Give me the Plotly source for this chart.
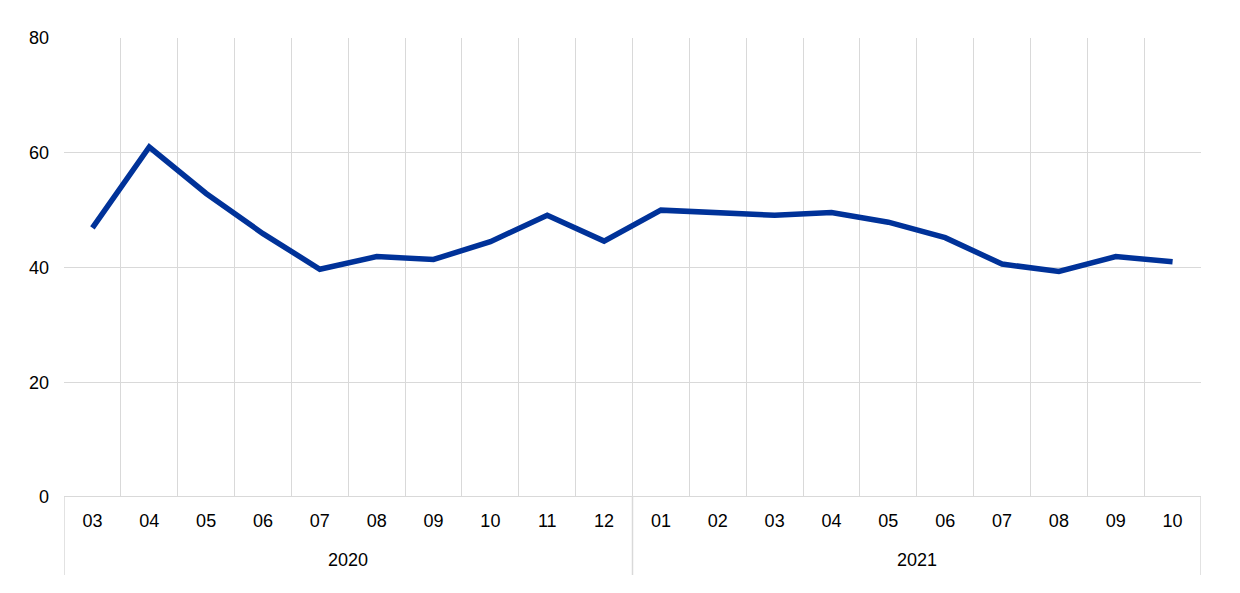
import plotly.graph_objects as go

years = ["2020", "2021"]
year_counts = [10, 10]
months = ["03", "04", "05", "06", "07", "08", "09", "10", "11", "12",
          "01", "02", "03", "04", "05", "06", "07", "08", "09", "10"]
values = [46.9, 61.0, 52.9, 45.9, 39.7, 41.9, 41.4, 44.5, 49.1, 44.6,
          50.0, 49.6, 49.1, 49.6, 47.9, 45.2, 40.6, 39.3, 41.9, 41.0]
y_ticks = [0, 20, 40, 60, 80]

idx = list(range(len(months)))
GRID = "#d9d9d9"

# page body has an 8px margin, so the figure is offset by 8px
OFF = 8
W, H = 1240, 593
L, R, T, B = 64 - OFF, W - (1201 - OFF), 38 - OFF, H - (497 - OFF)

fig = go.Figure()
fig.add_trace(go.Scatter(
    x=idx, y=values, mode="lines",
    line=dict(color="#003299", width=5.5),
    showlegend=False, hoverinfo="skip",
))

boundaries = [i - 0.5 for i in range(len(months) + 1)]

fig.update_layout(
    width=W, height=H,
    margin=dict(l=L, r=R, t=T, b=B),
    paper_bgcolor="white", plot_bgcolor="white",
    font=dict(family="Liberation Sans, Arial, sans-serif", size=18, color="#000000"),
)
fig.update_xaxes(
    range=[-0.5, len(months) - 0.5],
    tickmode="array", tickvals=idx, ticktext=months,
    showgrid=False, zeroline=False,
    showline=False, ticks="", ticklabelstandoff=11,
    minor=dict(tickvals=boundaries, showgrid=True, gridcolor=GRID, gridwidth=1, ticks=""),
    tickfont=dict(size=18),
)
fig.update_yaxes(
    range=[0, 80], tickvals=y_ticks,
    showgrid=True, gridcolor=GRID, gridwidth=1,
    zeroline=False, showline=False, ticks="",
    ticklabelstandoff=14,
    tickfont=dict(size=18),
)

# x axis baseline (thicker)
fig.add_shape(type="line", xref="paper", yref="y", x0=0, x1=1, y0=0, y1=0,
              line=dict(color=GRID, width=2))

# year group labels and dividers
plot_h = 497 - 38
div_bottom = -(575 - 497) / plot_h
start = 0
edges = [-0.5]
for yr, n in zip(years, year_counts):
    center = start + (n - 1) / 2
    fig.add_annotation(x=center, y=-(560 - 497) / plot_h, xref="x", yref="paper",
                       text=yr, showarrow=False, font=dict(size=18),
                       yanchor="middle")
    start += n
    edges.append(start - 0.5)
for e in edges:
    fig.add_shape(type="line", xref="x", yref="paper", x0=e, x1=e, y0=0, y1=div_bottom,
                  line=dict(color=GRID, width=1.5))

fig.write_html("out.html")
